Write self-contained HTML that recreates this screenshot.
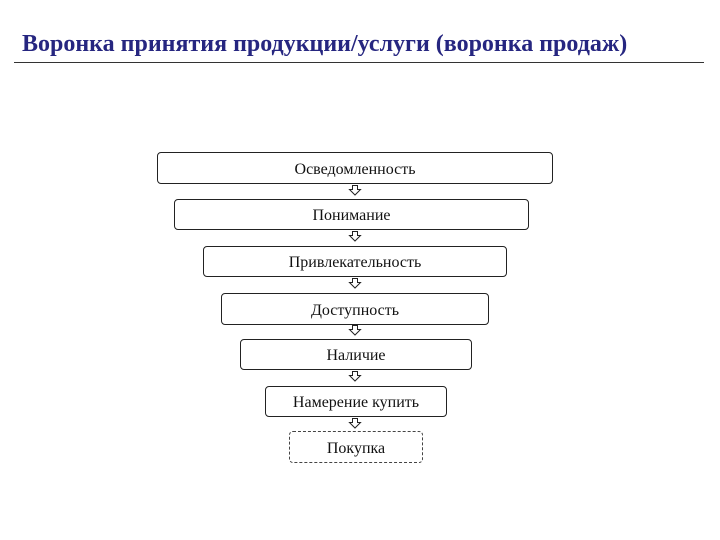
<!DOCTYPE html>
<html><head><meta charset="utf-8"><style>
body{margin:0;width:720px;height:540px;background:#fff;position:relative;overflow:hidden;font-family:"Liberation Serif",serif}
.t{position:absolute;left:22px;top:31px;font-size:24px;font-weight:bold;color:#262680;white-space:nowrap}
.hr{position:absolute;left:14px;top:62px;width:690px;height:1px;background:#333}
.b{position:absolute;box-sizing:border-box;border:1px solid #222;border-radius:4px;display:flex;align-items:center;justify-content:center;font-size:16px;color:#111;padding-top:3px}
</style></head><body>
<div class="t">Воронка принятия продукции/услуги (воронка продаж)</div>
<div class="hr"></div>
<div class="b" style="left:157px;top:152px;width:396px;height:32px">Осведомленность</div>
<div class="b" style="left:174px;top:199px;width:355px;height:31px">Понимание</div>
<div class="b" style="left:203px;top:246px;width:304px;height:31px">Привлекательность</div>
<div class="b" style="left:221px;top:293px;width:268px;height:32px">Доступность</div>
<div class="b" style="left:240px;top:339px;width:232px;height:31px">Наличие</div>
<div class="b" style="left:265px;top:386px;width:182px;height:31px">Намерение купить</div>
<div class="b" style="left:289px;top:431px;width:134px;height:32px;border:1px dashed #444">Покупка</div>
<svg width="720" height="540" style="position:absolute;left:0;top:0">
<g fill="#fff" stroke="#222" stroke-width="1">
<path d="M352.5 185.5h5v4h3l-5.5 5.5l-5.5-5.5h3z"/>
<path d="M352.5 231.5h5v4h3l-5.5 5.5l-5.5-5.5h3z"/>
<path d="M352.5 278.5h5v4h3l-5.5 5.5l-5.5-5.5h3z"/>
<path d="M352.5 325.5h5v4h3l-5.5 5.5l-5.5-5.5h3z"/>
<path d="M352.5 371.5h5v4h3l-5.5 5.5l-5.5-5.5h3z"/>
<path d="M352.5 418.5h5v4h3l-5.5 5.5l-5.5-5.5h3z"/>
</g></svg>
</body></html>
